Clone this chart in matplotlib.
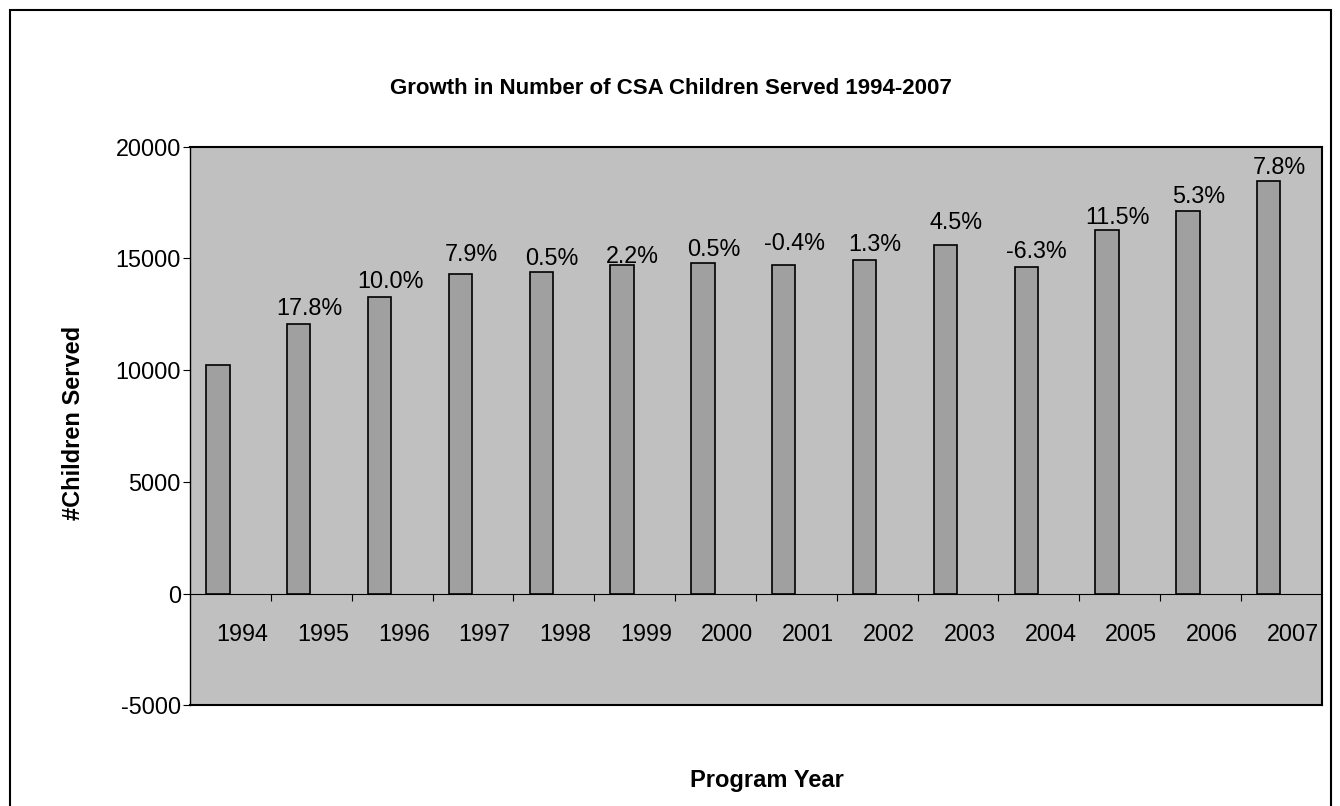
import matplotlib.pyplot as plt
import numpy as np
from matplotlib.patches import Rectangle

plt.rcParams['font.family'] = ['Liberation Sans', 'DejaVu Sans']
plt.rcParams['axes.unicode_minus'] = False

# program years and children served per year
years = ['1994', '1995', '1996', '1997', '1998', '1999', '2000',
         '2001', '2002', '2003', '2004', '2005', '2006', '2007']
children = [10240, 12060, 13270, 14310, 14380, 14700, 14780,
            14720, 14910, 15580, 14600, 16280, 17140, 18470]
# year-over-year growth shown above each bar
growth = ['', '17.8%', '10.0%', '7.9%', '0.5%', '2.2%', '0.5%',
          '-0.4%', '1.3%', '4.5%', '-6.3%', '11.5%', '5.3%', '7.8%']

# gap (pixels) between bar top and its growth label
label_gap = [0, 9, 9, 12.7, 7, 1.7, 7, 15, 9, 16, 9, 6, 7.4, 7.3]

fig = plt.figure(figsize=(13.4, 8.06), dpi=100)
ax = fig.add_axes([190 / 1340, 1 - 705.3 / 806, 1131.7 / 1340, 558.6 / 806])
ax.set_facecolor('#c0c0c0')

idx = np.arange(len(years))
ax.bar(idx + 0.345, children, width=0.29, color='#a0a0a0',
       edgecolor='black', linewidth=1.2, zorder=3)

for i, (v, g, gap) in enumerate(zip(children, growth, label_gap)):
    if g:
        ax.annotate(g, (i + 0.475, v), xytext=(0, gap * 0.72),
                    textcoords='offset points', ha='center', va='baseline',
                    fontsize=16.8, zorder=4)

ax.set_xlim(0, len(years))
ax.set_ylim(-5000, 20000)
ax.set_yticks(np.arange(-5000, 20001, 5000))

# category axis crosses at zero
ax.spines['bottom'].set_position(('data', 0))
ax.spines['bottom'].set_linewidth(0.8)
ax.spines['left'].set_linewidth(1.0)
ax.spines['top'].set_linewidth(1.5)
ax.spines['right'].set_linewidth(1.5)
ax.axhline(-5000, color='black', lw=1.5, clip_on=False, zorder=5)

ax.set_xticks(idx[1:])
ax.set_xticklabels([])
ax.set_xticks(idx + 0.645, minor=True)
ax.set_xticklabels(years, minor=True)
ax.tick_params(axis='x', which='major', direction='out', length=5, width=0.8)
ax.tick_params(axis='x', which='minor', length=0, pad=21.5, labelsize=16.8)
ax.tick_params(axis='y', direction='out', length=5, width=0.8, pad=1.5,
               labelsize=16.8)

fig.text(671 / 1340, 1 - 89 / 806, 'Growth in Number of CSA Children Served 1994-2007',
         ha='center', va='center', fontsize=16, fontweight='bold')
fig.text(73 / 1340, 1 - 423 / 806, '#Children Served', rotation=90,
         ha='center', va='center', fontsize=17, fontweight='bold')
fig.text(767 / 1340, 1 - 781 / 806, 'Program Year',
         ha='center', va='center', fontsize=17, fontweight='bold')

# outer chart border
fig.patches.append(Rectangle((10 / 1340, -0.05), 1321 / 1340, 1.05 - 10 / 806,
                             transform=fig.transFigure, fill=False,
                             edgecolor='black', lw=1.5))

fig.savefig('out.png', dpi=100)
